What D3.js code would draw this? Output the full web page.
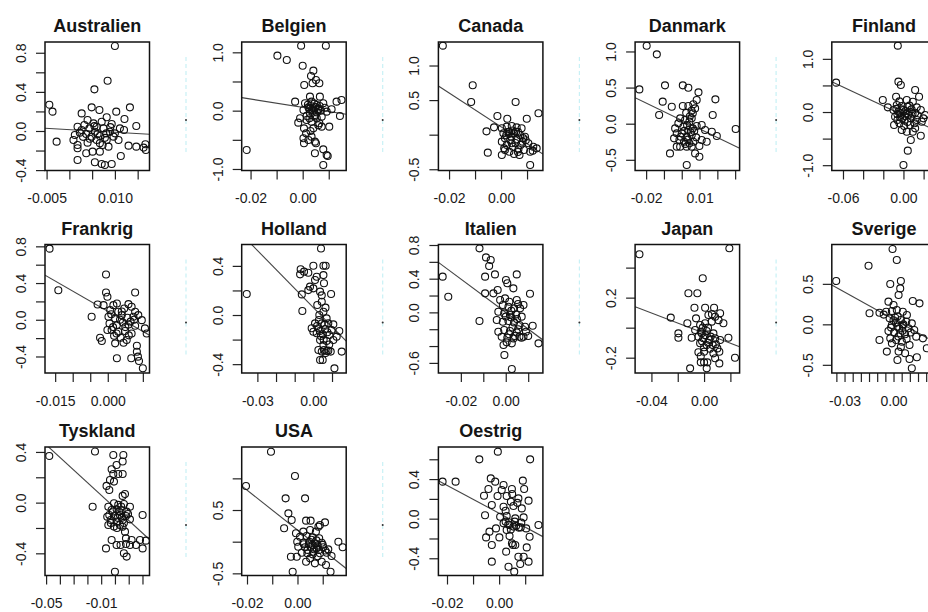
<!DOCTYPE html>
<html>
<head>
<meta charset="utf-8">
<script src="https://cdn.jsdelivr.net/npm/d3@7"></script>
<style>
  body { margin: 0; background: #fff; }
  text { font-family: "Liberation Sans", Arial, sans-serif; }
</style>
</head>
<body>
<div id="my_dataviz"></div>
<script>
// panel names, in plotting order (3 rows x 5 columns)
var countries = ["Australien", "Belgien", "Canada", "Danmark", "Finland",
                 "Frankrig", "Holland", "Italien", "Japan", "Sverige",
                 "Tyskland", "USA", "Oestrig"];

// axis limits per panel (data units at the box edges)
var xLims = [[-0.00535, 0.0176], [-0.0234, 0.0167], [-0.0241, 0.0161], [-0.0262, 0.0325], [-0.0711, 0.0326],
             [-0.0179, 0.0119], [-0.0384, 0.0176], [-0.0300, 0.01655], [-0.0524, 0.0270], [-0.0378, 0.0262],
             [-0.0508, 0.0251], [-0.0221, 0.0193], [-0.0233, 0.0168]];
var yLims = [[-0.404, 0.910], [-1.026, 1.177], [-0.518, 1.340], [-0.648, 1.131], [-1.100, 1.317],
             [-0.580, 0.820], [-0.472, 0.574], [-0.720, 0.806], [-0.302, 0.554], [-0.601, 0.986],
             [-0.575, 0.439], [-0.534, 1.495], [-0.574, 0.724]];

// tick positions and the labels R managed to print ("" = tick without label)
var xTicks = [[-0.005, 0, 0.005, 0.010, 0.015], [-0.02, -0.01, 0, 0.01], [-0.02, -0.01, 0, 0.01],
              [-0.02, -0.01, 0, 0.01, 0.02, 0.03], [-0.06, -0.04, -0.02, 0, 0.02],
              [-0.015, -0.01, -0.005, 0, 0.005, 0.01], [-0.03, -0.02, -0.01, 0, 0.01], [-0.02, -0.01, 0, 0.01],
              [-0.04, -0.02, 0, 0.02], [-0.035, -0.03, -0.025, -0.02, -0.015, -0.01, -0.005, 0, 0.005, 0.01, 0.015, 0.02, 0.025],
              [-0.05, -0.04, -0.03, -0.02, -0.01, 0, 0.01, 0.02], [-0.02, -0.01, 0, 0.01], [-0.02, -0.01, 0, 0.01]];
var xTickLabels = [["-0.005", "", "", "0.010", ""], ["-0.02", "", "0.00", ""], ["-0.02", "", "0.00", ""],
                   ["-0.02", "", "", "0.01", "", ""], ["-0.06", "", "", "0.00", ""],
                   ["-0.015", "", "", "0.000", "", ""], ["-0.03", "", "", "0.00", ""], ["-0.02", "", "0.00", ""],
                   ["-0.04", "", "0.00", ""], ["", "-0.03", "", "", "", "", "", "0.00", "", "", "", "", ""],
                   ["-0.05", "", "", "", "-0.01", "", "", ""], ["-0.02", "", "0.00", ""], ["-0.02", "", "0.00", ""]];
var yTicks = [[-0.4, -0.2, 0, 0.2, 0.4, 0.6, 0.8], [-1, -0.5, 0, 0.5, 1], [-0.5, 0, 0.5, 1], [-0.5, 0, 0.5, 1],
              [-1, -0.5, 0, 0.5, 1], [-0.4, -0.2, 0, 0.2, 0.4, 0.6, 0.8], [-0.4, -0.2, 0, 0.2, 0.4],
              [-0.6, -0.4, -0.2, 0, 0.2, 0.4, 0.6, 0.8], [-0.2, 0, 0.2, 0.4], [-0.5, 0, 0.5],
              [-0.4, -0.2, 0, 0.2, 0.4], [-0.5, 0, 0.5, 1], [-0.4, -0.2, 0, 0.2, 0.4, 0.6]];
var yTickLabels = [["-0.4", "", "0.0", "", "0.4", "", "0.8"], ["-1.0", "", "0.0", "", "1.0"], ["-0.5", "", "0.5", "1.0"],
                   ["-0.5", "0.0", "0.5", "1.0"], ["-1.0", "", "0.0", "", "1.0"], ["-0.4", "", "0.0", "", "0.4", "", "0.8"],
                   ["-0.4", "", "0.0", "", "0.4"], ["-0.6", "", "", "0.0", "", "0.4", "", "0.8"], ["-0.2", "", "0.2", ""],
                   ["-0.5", "0.0", "0.5"], ["-0.4", "", "0.0", "", "0.4"], ["-0.5", "", "0.5", ""],
                   ["-0.4", "", "0.0", "", "0.4", ""]];

// fitted regression lines: intercept and slope
var fitIntercept = [0.0135, 0.057, 0.114, 0.047, -0.064, 0.092, 0.061, 0.0, -0.036, 0.063, -0.041, 0.184, 0.055];
var fitSlope = [-2.70, -7.1, -24.5, -11.9, -8.9, -22.0, -15.5, -19.8, -3.36, -11.2, -9.96, -31.5, -14.1];

// observations [x, y] per country
var australien = [[0.0100,0.869],[0.0084,0.514],[0.0055,0.426],[-0.0044,0.269],[-0.0037,0.198],[-0.0028,-0.109],[0.0133,0.242],[0.0147,0.051],[0.0027,0.18],[0.0049,0.242],[0.0066,0.215],[0.0103,0.198],[0.0121,0.123],[0.0082,0.140],[0.0040,0.112],[0.0018,0.044],[0.0033,0.061],[0.0053,0.078],[0.0071,0.095],[0.0093,0.072],[0.0111,0.027],[0.0120,0.010],[0.0012,-0.041],[0.0023,-0.017],[0.0037,-0.031],[0.0056,-0.007],[0.0067,-0.051],[0.0081,-0.024],[0.0097,-0.058],[0.0108,-0.092],[0.0009,-0.092],[0.0018,-0.143],[0.0018,-0.177],[0.0040,-0.119],[0.0060,-0.092],[0.0073,-0.143],[0.0086,-0.160],[0.0067,-0.211],[0.0051,-0.211],[0.0037,-0.228],[0.0018,-0.296],[0.0056,-0.320],[0.0071,-0.337],[0.0078,-0.348],[0.0093,-0.337],[0.0113,-0.256],[0.0130,-0.150],[0.0147,-0.160],[0.0167,-0.136],[0.0168,-0.194],[0.0163,-0.170],[0.0089,-0.007],[0.0100,-0.024],[0.0075,0.027],[0.0044,0.027],[0.0027,0.010],[0.0049,-0.058],[0.0060,0.044],[0.0082,-0.092],[0.0067,-0.126],[0.0045,-0.08],[0.0062,-0.03],[0.0078,-0.07],[0.0030,-0.06],[0.0055,0.05],[0.0090,0.04]];
var belgien = [[-0.0006,1.114],[0.0089,1.114],[-0.0097,0.943],[-0.0061,0.869],[0.0,0.771],[0.0041,0.686],[0.0032,0.594],[0.0006,0.44],[0.0038,0.469],[0.0064,0.469],[0.0051,0.526],[-0.0215,-0.674],[-0.0029,0.154],[0.0028,0.24],[0.0066,0.24],[0.0130,0.154],[0.0149,0.183],[0.0143,-0.091],[0.0111,0.023],[0.0009,0.126],[0.0034,0.154],[0.0054,0.097],[0.0079,0.126],[0.0022,0.057],[0.0041,0.04],[0.0060,0.011],[0.0092,-0.017],[0.0003,0.011],[0.0028,-0.046],[0.0047,-0.074],[0.0073,-0.103],[-0.0010,-0.131],[-0.0017,-0.206],[0.0015,-0.16],[0.0034,-0.189],[0.0064,-0.217],[0.0102,-0.274],[0.0073,-0.274],[0.0005,-0.303],[0.0041,-0.303],[0.0013,-0.389],[0.0034,-0.446],[0.0003,-0.474],[0.0022,-0.503],[0.0047,-0.531],[0.0005,-0.56],[0.0051,-0.56],[0.0047,-0.731],[0.0079,-0.663],[0.0092,-0.76],[0.0096,-0.777],[0.0079,-0.931],[0.0026,-0.131],[0.0054,-0.131],[0.0030,0.08],[0.0050,0.06],[0.0040,0.0],[0.0020,0.10],[0.0060,0.03],[0.0035,0.02],[0.0045,0.12],[0.0065,0.08],[0.0055,-0.03],[0.0025,0.03],[0.0070,0.0],[0.0015,-0.09],[0.0045,-0.10],[0.0085,0.05],[0.0060,-0.25],[0.0030,-0.35]];
var canada = [[-0.0224,1.287],[-0.0109,0.714],[-0.0115,0.473],[0.0056,0.473],[0.0144,0.309],[-0.0014,0.27],[0.0024,0.231],[0.0099,0.231],[-0.0027,0.106],[-0.0056,0.048],[-0.0051,-0.26],[0.0003,-0.294],[0.0112,-0.439],[0.0003,0.092],[0.0022,0.116],[0.0041,0.125],[0.0060,0.106],[0.0079,0.092],[0.0009,0.019],[0.0032,0.043],[0.0050,0.019],[0.0073,-0.005],[0.0092,-0.029],[0.0015,-0.053],[0.0035,-0.077],[0.0060,-0.068],[0.0083,-0.101],[0.0105,-0.125],[0.0124,-0.174],[0.0137,-0.198],[0.0022,-0.149],[0.0045,-0.174],[0.0067,-0.212],[0.0088,-0.222],[0.0112,-0.246],[0.0032,-0.246],[0.0050,-0.28],[0.0071,-0.294],[0.0122,-0.231],[0.0012,-0.198],[0.0003,-0.101],[0.0028,0.043],[0.0058,0.043],[0.0041,-0.125],[0.0030,0.01],[0.0045,0.06],[0.0065,0.04],[0.0085,-0.05],[0.0040,-0.03],[0.0055,-0.12],[0.0075,-0.15],[0.0020,-0.01],[0.0095,-0.08],[0.0065,-0.25],[0.0015,-0.22]];
var danmark = [[-0.0197,1.08],[-0.0140,0.96],[-0.0238,0.475],[-0.0094,0.531],[0.0006,0.531],[0.0037,0.498],[0.0094,0.434],[0.0189,0.337],[-0.0107,0.305],[-0.0056,0.235],[-0.0127,0.12],[0.0006,0.245],[0.0037,0.245],[0.0084,0.328],[0.0075,0.212],[0.0062,0.143],[0.0174,0.12],[0.0303,-0.074],[0.0197,-0.171],[0.0169,-0.111],[-0.0066,-0.411],[0.0028,-0.572],[0.0099,-0.457],[0.0075,-0.411],[-0.0028,-0.318],[0.0028,-0.318],[0.0056,-0.318],[-0.0019,0.005],[-0.0037,-0.065],[-0.0028,-0.134],[-0.0009,0.074],[0.0019,0.051],[0.0043,0.028],[0.0009,-0.042],[0.0037,-0.088],[0.0062,-0.065],[0.0084,-0.032],[0.0112,-0.018],[0.0131,-0.088],[0.0,-0.134],[0.0028,-0.18],[0.0056,-0.157],[0.0081,-0.189],[0.0112,-0.226],[-0.0013,-0.226],[0.0013,-0.249],[0.0043,-0.272],[-0.0009,-0.318],[0.0099,-0.309],[-0.0043,-0.203],[0.0140,-0.249],[0.0056,0.074],[0.0015,-0.10],[0.0030,-0.02],[0.0050,-0.12],[0.0020,-0.28],[0.0035,-0.22],[0.0065,-0.25],[0.0045,0.10],[0.0055,0.18],[0.0070,-0.10],[-0.0005,-0.18],[0.0025,0.15],[0.0065,0.27]];
var finland = [[-0.0056,1.248],[-0.0668,0.552],[-0.0205,0.226],[-0.0155,0.088],[0.0,-0.997],[0.0043,-0.727],[0.0073,-0.527],[0.0172,-0.445],[-0.0050,0.571],[-0.0026,0.508],[-0.0073,0.288],[0.0116,0.414],[0.0155,0.288],[0.0033,0.226],[0.0093,0.194],[-0.0066,0.132],[-0.0017,0.113],[0.0040,0.1],[0.0132,0.088],[-0.0099,0.038],[-0.0050,0.006],[0.0,0.038],[0.0060,0.006],[0.0116,-0.013],[0.0172,0.038],[0.0215,-0.056],[-0.0083,-0.088],[-0.0033,-0.1],[0.0017,-0.075],[0.0073,-0.119],[0.0132,-0.15],[0.0182,-0.182],[-0.0093,-0.245],[-0.0040,-0.213],[0.0007,-0.263],[0.0066,-0.245],[0.0116,-0.307],[0.0033,-0.37],[-0.0017,-0.339],[0.0093,-0.37],[-0.0060,-0.15],[0.0198,-0.119],[-0.002,0.05],[0.003,-0.03],[-0.006,-0.04],[0.008,0.05],[0.001,-0.16],[-0.003,-0.02],[0.002,0.02],[0.005,-0.05],[-0.001,-0.12],[0.004,-0.19],[0.009,-0.03],[-0.007,0.06],[0.011,-0.21],[0.006,0.12],[-0.004,0.20],[0.014,-0.06]];
var frankrig = [[-0.0166,0.775],[-0.0141,0.322],[-0.0005,0.493],[-0.0005,0.297],[-0.0001,0.25],[-0.0046,0.033],[0.0078,0.297],[-0.0022,-0.196],[-0.0017,-0.232],[0.0026,-0.42],[0.0067,-0.42],[0.0083,-0.283],[0.0083,-0.348],[0.0086,-0.402],[0.0089,-0.449],[0.0100,-0.529],[0.0106,-0.094],[0.0111,-0.149],[0.0097,-0.004],[-0.0029,0.167],[-0.0012,0.159],[0.0016,0.159],[0.0026,0.178],[0.0059,0.17],[0.0007,0.105],[0.0030,0.087],[0.0047,0.123],[0.0068,0.141],[0.0078,0.087],[0.0002,0.033],[0.0021,0.014],[0.0040,0.051],[0.0056,0.022],[0.0073,0.033],[0.0087,0.051],[0.0005,-0.04],[0.0026,-0.058],[0.0043,-0.029],[0.0059,-0.051],[0.0078,-0.065],[0.0011,-0.112],[0.0030,-0.13],[0.0049,-0.123],[0.0068,-0.149],[0.0018,-0.174],[0.0037,-0.196],[0.0054,-0.221],[0.0021,-0.257],[-0.0001,-0.112],[0.0035,0.0],[0.0050,-0.08],[0.0065,-0.02],[0.0015,-0.08],[0.0040,0.09],[0.0060,-0.17],[0.0025,-0.15],[0.0075,0.00],[0.0045,-0.25],[0.0010,0.06]];
var holland = [[0.0041,0.542],[-0.0357,0.171],[-0.0059,0.033],[0.0113,-0.434],[0.0152,-0.298],[0.0036,-0.366],[0.0050,-0.366],[0.0,0.401],[0.0054,0.401],[0.0066,0.401],[-0.0068,0.372],[-0.0050,0.353],[-0.0027,0.344],[-0.0071,0.331],[0.0018,0.312],[0.0054,0.325],[0.0009,0.285],[0.0057,0.258],[-0.0018,0.231],[0.0,0.217],[-0.0027,0.203],[0.0036,0.19],[0.0095,0.171],[-0.0062,0.168],[0.0045,0.108],[0.0021,0.081],[0.0054,0.027],[0.0032,0.0],[0.0071,-0.027],[0.0009,-0.068],[0.0045,-0.068],[0.0080,-0.068],[0.0107,-0.076],[-0.0009,-0.108],[0.0027,-0.108],[0.0063,-0.114],[0.0098,-0.122],[0.0139,-0.13],[0.0018,-0.149],[0.0050,-0.157],[0.0086,-0.163],[0.0125,-0.176],[0.0036,-0.203],[0.0071,-0.212],[0.0107,-0.203],[0.0054,-0.244],[0.0027,-0.285],[0.0045,-0.298],[0.0071,-0.293],[0.0093,-0.298],[0.0057,-0.285],[0.0,-0.136],[0.0035,-0.13],[0.0060,-0.08],[0.0040,-0.17],[0.0075,-0.14],[0.0020,-0.09],[0.0055,-0.20],[0.0085,-0.24],[0.0065,-0.31],[0.0080,-0.29],[0.0030,-0.04],[0.0045,0.16],[0.0065,0.06]];
var italien = [[-0.0117,0.76],[-0.0088,0.653],[-0.0067,0.622],[-0.0074,0.55],[-0.0092,0.424],[-0.0048,0.451],[0.0049,0.451],[-0.0281,0.424],[-0.0256,0.186],[-0.0092,0.226],[-0.0055,0.226],[-0.0036,0.265],[0.0001,0.384],[0.0007,0.345],[0.0034,0.285],[0.0108,0.222],[-0.0117,-0.103],[-0.0006,-0.507],[0.0027,-0.673],[0.0146,-0.368],[0.0120,-0.158],[0.0079,0.087],[-0.0025,0.147],[-0.0003,0.166],[0.0016,0.127],[0.0049,0.147],[-0.0013,0.087],[0.0012,0.067],[0.0037,0.048],[0.0064,0.048],[-0.0033,0.008],[-0.0007,-0.012],[0.0019,-0.032],[0.0046,-0.024],[0.0071,-0.051],[-0.0040,-0.091],[-0.0013,-0.111],[0.0012,-0.103],[0.0037,-0.119],[0.0061,-0.15],[0.0086,-0.17],[-0.0033,-0.23],[-0.0007,-0.21],[0.0019,-0.222],[0.0049,-0.238],[-0.0018,-0.289],[0.0007,-0.301],[0.0034,-0.309],[0.0061,-0.289],[0.0079,-0.289],[0.0004,-0.356],[0.0027,-0.368],[-0.0010,-0.388],[0.0025,-0.06],[0.0050,-0.08],[0.0000,-0.05],[0.0030,-0.18],[0.0055,-0.20],[0.0015,-0.26],[0.0040,-0.28],[0.0070,-0.30],[0.0025,0.02],[0.0055,0.10],[0.0090,-0.23],[0.0100,-0.28]];
var japan = [[-0.0491,0.489],[0.0192,0.529],[-0.0010,0.329],[-0.0119,0.229],[-0.0051,0.229],[-0.0073,0.133],[0.0008,0.133],[0.0076,0.133],[-0.0253,0.067],[-0.0127,0.029],[-0.0195,-0.038],[-0.0195,-0.067],[-0.0106,-0.271],[0.0235,-0.2],[0.0116,-0.238],[0.0185,-0.067],[0.0147,0.029],[0.0122,0.096],[0.0020,-0.271],[-0.0025,-0.231],[0.0,-0.231],[0.0025,-0.231],[-0.0061,0.062],[0.0033,0.084],[0.0084,0.073],[-0.0030,0.018],[0.0008,0.029],[0.0058,0.04],[-0.0068,-0.016],[-0.0025,-0.027],[0.0020,-0.022],[0.0071,-0.038],[-0.0094,-0.067],[-0.0043,-0.06],[-0.0005,-0.071],[0.0041,-0.082],[0.0084,-0.071],[0.0122,-0.082],[-0.0030,-0.104],[0.0020,-0.116],[0.0066,-0.116],[0.0101,-0.138],[-0.0043,-0.164],[0.0,-0.16],[0.0071,-0.171],[0.0116,-0.16],[0.0084,-0.204],[-0.0018,-0.038],[0.0010,-0.05],[0.0030,-0.10],[-0.0015,-0.09],[0.0050,-0.06],[0.0000,-0.13],[0.0045,-0.14],[0.0090,-0.11],[-0.0010,0.00],[0.0030,0.00],[0.0060,0.09],[0.0110,0.05],[-0.0025,-0.19]];
var sverige = [[-0.0006,0.93],[0.0020,0.794],[-0.0153,0.724],[-0.0351,0.535],[-0.0020,0.498],[0.0045,0.535],[0.0041,0.444],[0.0031,0.362],[0.0118,0.288],[0.0159,0.259],[-0.0147,0.136],[-0.0086,0.144],[-0.0031,0.28],[0.0,0.239],[-0.0045,0.156],[-0.0010,0.165],[0.0020,0.177],[0.0057,0.156],[0.0082,0.115],[-0.0024,0.074],[0.0010,0.082],[0.0045,0.053],[0.0078,0.033],[0.0112,0.012],[-0.0010,-0.008],[0.0024,-0.029],[0.0057,-0.016],[0.0092,-0.049],[0.0127,-0.07],[-0.0031,-0.082],[0.0004,-0.099],[0.0041,-0.111],[0.0071,-0.123],[0.0139,-0.152],[0.0180,-0.173],[-0.0086,-0.193],[-0.0020,-0.173],[0.0016,-0.193],[0.0051,-0.214],[0.0098,-0.255],[-0.0041,-0.337],[0.0031,-0.337],[0.0071,-0.358],[0.0024,-0.44],[0.0098,-0.428],[0.0143,-0.407],[0.0112,-0.543],[0.0204,-0.296],[-0.0010,-0.235],[0.0015,0.02],[0.0035,-0.05],[0.0055,-0.08],[0.0000,0.05],[0.0025,0.10],[-0.0015,-0.04],[0.0060,0.00],[0.0030,-0.15],[0.0080,-0.18],[0.0105,-0.10],[0.0045,-0.28],[-0.0060,0.12]];
var tyskland = [[-0.0477,0.368],[-0.0145,0.403],[-0.0162,-0.032],[0.0,-0.545],[0.0201,-0.097],[-0.0065,-0.361],[-0.0012,0.376],[0.0061,0.376],[0.0056,0.324],[0.0012,0.297],[-0.0024,0.263],[-0.0012,0.226],[0.0024,0.226],[0.0056,0.226],[-0.0036,0.179],[-0.0007,0.166],[-0.0061,0.132],[-0.0041,0.1],[0.0073,0.068],[0.0056,0.053],[-0.0048,-0.032],[-0.0007,-0.005],[0.0024,-0.018],[0.0065,-0.011],[0.0109,-0.032],[-0.0024,-0.058],[0.0012,-0.053],[0.0048,-0.058],[0.0085,-0.071],[-0.0041,-0.097],[0.0,-0.105],[0.0036,-0.097],[0.0080,-0.105],[-0.0031,-0.137],[0.0012,-0.15],[0.0056,-0.137],[0.0109,-0.132],[-0.0048,-0.176],[-0.0007,-0.189],[0.0036,-0.176],[0.0073,-0.229],[0.0080,-0.282],[-0.0024,-0.295],[0.0012,-0.334],[0.0041,-0.334],[0.0080,-0.326],[0.0121,-0.295],[0.0153,-0.334],[0.0182,-0.295],[0.0225,-0.3],[0.0201,-0.361],[0.0065,-0.4],[0.0085,-0.426],[0.0109,-0.334],[-0.0056,-0.111],[0.0030,-0.07],[0.0050,-0.12],[0.0020,-0.12],[0.0065,-0.16],[0.0045,-0.03],[-0.0015,-0.07],[0.0015,-0.20],[0.0055,-0.19],[-0.0030,-0.16],[0.0095,-0.09]];
var usa = [[-0.0105,1.421],[-0.0204,0.879],[-0.0010,1.037],[-0.0047,0.684],[0.0030,0.684],[-0.0036,0.447],[-0.0023,0.342],[-0.0053,0.211],[0.0034,0.332],[0.0052,0.332],[0.0109,0.305],[0.0089,0.263],[0.0083,0.237],[0.0162,0.0],[0.0179,-0.089],[-0.0026,-0.237],[-0.0019,-0.474],[0.0131,-0.474],[0.0113,-0.368],[0.0135,-0.226],[0.0023,0.158],[0.0050,0.184],[0.0073,0.158],[0.0010,0.079],[0.0036,0.089],[0.0060,0.068],[0.0086,0.053],[-0.0001,0.0],[0.0023,-0.016],[0.0047,0.0],[0.0069,-0.026],[0.0096,-0.016],[0.0003,-0.079],[0.0030,-0.089],[0.0052,-0.079],[0.0076,-0.105],[0.0102,-0.089],[0.0122,-0.121],[0.0017,-0.174],[0.0039,-0.184],[0.0063,-0.158],[0.0089,-0.184],[0.0116,-0.174],[0.0034,-0.316],[0.0069,-0.342],[0.0096,-0.316],[0.0050,-0.263],[-0.0003,-0.237],[-0.0006,0.132],[0.0060,-0.05],[0.0080,-0.06],[0.0045,-0.04],[0.0065,-0.12],[0.0085,-0.13],[0.0040,-0.13],[0.0055,0.03],[0.0075,0.02],[0.0100,-0.05],[0.0110,-0.14],[0.0025,-0.04],[0.0060,-0.20],[0.0080,-0.23]];
var oestrig = [[-0.0217,0.374],[-0.0167,0.374],[-0.0076,0.599],[-0.0005,0.677],[0.0119,0.599],[-0.0054,0.034],[-0.0032,0.407],[-0.0015,0.374],[-0.0041,0.3],[-0.0058,0.232],[0.0017,0.34],[0.0010,0.29],[0.0049,0.3],[0.0091,0.384],[0.0096,0.3],[0.0074,0.205],[0.0113,0.182],[-0.0006,0.229],[0.0029,0.229],[0.0045,0.172],[-0.0028,0.138],[0.0017,0.121],[0.0055,0.128],[0.0087,0.104],[0.0004,0.02],[0.0029,0.027],[0.0062,0.003],[0.0094,0.013],[0.0151,-0.064],[0.0017,-0.047],[0.0040,-0.064],[0.0065,-0.074],[0.0083,-0.088],[0.0104,-0.098],[0.0029,-0.114],[-0.0012,-0.098],[-0.0037,-0.131],[-0.0050,-0.189],[0.0001,-0.189],[0.0040,-0.175],[0.0117,-0.182],[-0.0028,-0.266],[0.0049,-0.249],[0.0062,-0.266],[0.0106,-0.29],[0.0027,-0.333],[0.0074,-0.384],[0.0094,-0.384],[0.0113,-0.434],[-0.0028,-0.434],[0.0081,-0.458],[0.0036,-0.485],[0.0058,-0.535],[0.0053,-0.266],[0.0035,-0.06],[0.0055,-0.08],[0.0075,-0.09],[0.0045,-0.11],[0.0060,-0.03],[0.0025,0.08],[0.0070,0.16],[0.0085,-0.04],[0.0050,0.25],[0.0025,-0.03]];

var pointSets = [australien, belgien, canada, danmark, finland, frankrig, holland,
                 italien, japan, sverige, tyskland, usa, oestrig];

// layout of the 3 x 5 grid of plot boxes (the right column is cut by the page edge)
var boxW = 104.5, boxH = 128.5,
    left0 = 45, top0 = 42,
    colStep = 196.7, rowStep = 202.5;

var svg = d3.select("#my_dataviz")
    .append("svg")
    .attr("width", 928)
    .attr("height", 612);

countries.forEach(function (name, i) {
    var col = i % 5, row = Math.floor(i / 5);
    var g = svg.append("g")
        .attr("transform", "translate(" + (left0 + col * colStep) + "," + (top0 + row * rowStep) + ")");

    var x = d3.scaleLinear().domain(xLims[i]).range([0, boxW]);
    var y = d3.scaleLinear().domain(yLims[i]).range([boxH, 0]);

    g.append("clipPath").attr("id", "clip" + i)
        .append("rect").attr("width", boxW).attr("height", boxH);

    // faint leftover y label of the panel (light dashed stroke + dot)
    g.append("line")
        .attr("x1", -55.7).attr("x2", -55.7)
        .attr("y1", 15).attr("y2", 111)
        .attr("stroke", "#c8f1f6").attr("stroke-width", 1.2)
        .attr("stroke-dasharray", "4,3");
    g.append("circle")
        .attr("cx", -55.7).attr("cy", 78).attr("r", 1)
        .attr("fill", "#333");

    // X axis
    var xa = g.append("g")
        .attr("transform", "translate(0," + boxH + ")")
        .call(d3.axisBottom(x)
            .tickValues(xTicks[i])
            .tickSize(9)
            .tickPadding(14)
            .tickFormat(function (d, j) { return xTickLabels[i][j]; }));
    xa.select(".domain").remove();
    xa.selectAll(".tick line").attr("stroke", "#222").attr("stroke-width", 1.2);
    xa.selectAll(".tick text")
        .attr("fill", "#1a1a1a")
        .style("font-size", "14px")
        .style("font-family", "'Liberation Sans', Arial, sans-serif");

    // Y axis, labels drawn parallel to the axis like R does
    var ya = g.append("g")
        .call(d3.axisLeft(y)
            .tickValues(yTicks[i])
            .tickSize(9)
            .tickFormat(function (d, j) { return yTickLabels[i][j]; }));
    ya.select(".domain").remove();
    ya.selectAll(".tick line").attr("stroke", "#222").attr("stroke-width", 1.2);
    ya.selectAll(".tick text")
        .attr("x", 0)
        .attr("y", -19)
        .attr("dy", 0)
        .attr("transform", "rotate(-90)")
        .attr("text-anchor", "middle")
        .attr("fill", "#1a1a1a")
        .style("font-size", "14px")
        .style("font-family", "'Liberation Sans', Arial, sans-serif");

    var inner = g.append("g").attr("clip-path", "url(#clip" + i + ")");

    // regression line (abline), clipped to the box
    inner.append("line")
        .attr("x1", x(xLims[i][0]))
        .attr("y1", y(fitIntercept[i] + fitSlope[i] * xLims[i][0]))
        .attr("x2", x(xLims[i][1]))
        .attr("y2", y(fitIntercept[i] + fitSlope[i] * xLims[i][1]))
        .attr("stroke", "#444")
        .attr("stroke-width", 1.1);

    // the points
    inner.selectAll("circle")
        .data(pointSets[i])
        .enter()
        .append("circle")
        .attr("cx", function (d) { return x(d[0]); })
        .attr("cy", function (d) { return y(d[1]); })
        .attr("r", 3.5)
        .attr("fill", "none")
        .attr("stroke", "#111")
        .attr("stroke-width", 1.1);

    // box
    g.append("rect")
        .attr("width", boxW).attr("height", boxH)
        .attr("fill", "none")
        .attr("stroke", "#111")
        .attr("stroke-width", 1.5);

    // title
    g.append("text")
        .attr("x", boxW / 2)
        .attr("y", -10)
        .attr("text-anchor", "middle")
        .attr("fill", "#151515")
        .style("font-size", "18px")
        .style("font-weight", "bold")
        .text(name);
});
</script>
</body>
</html>
